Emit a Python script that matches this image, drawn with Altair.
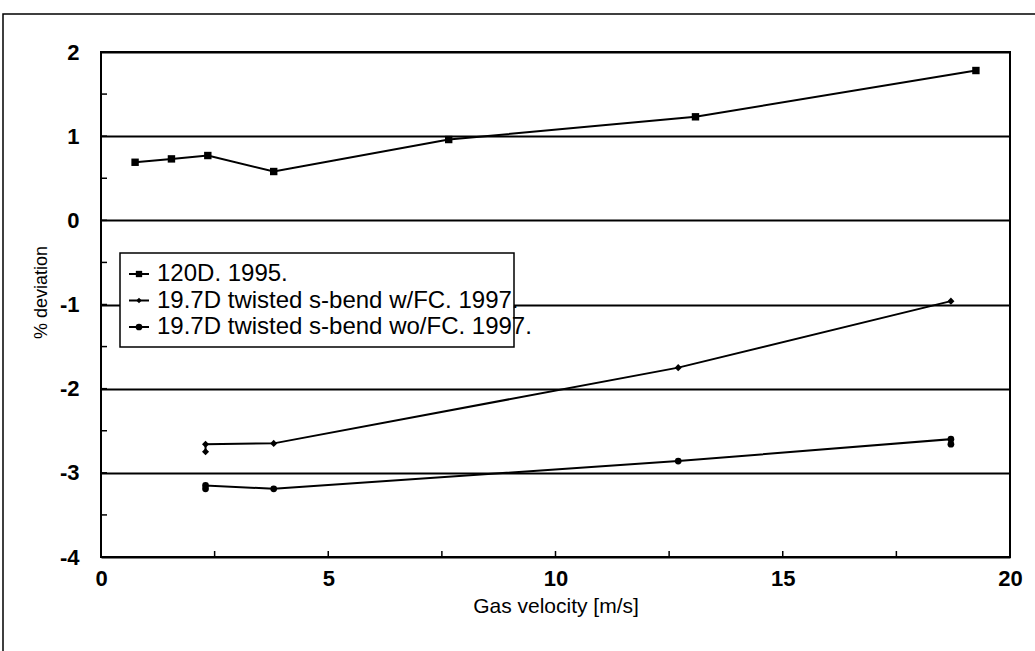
import altair as alt
import pandas as pd

# ---------------- data ----------------
series_names = [
    "120D. 1995.",
    "19.7D twisted s-bend w/FC. 1997.",
    "19.7D twisted s-bend wo/FC. 1997.",
]
s1_x = [0.75, 1.55, 2.35, 3.8, 7.65, 13.08, 19.25]
s1_y = [0.69, 0.73, 0.77, 0.58, 0.96, 1.23, 1.78]
s2_x = [2.3, 2.3, 3.8, 12.7, 18.7]
s2_y = [-2.75, -2.66, -2.65, -1.75, -0.96]
s3_x = [2.3, 2.3, 3.8, 12.7, 18.7, 18.7]
s3_y = [-3.19, -3.15, -3.19, -2.86, -2.6, -2.66]

x_tick_values = [0, 5, 10, 15, 20]
y_tick_values = [-4, -3, -2, -1, 0, 1, 2]
x_minor_ticks = [2.5, 5, 7.5, 10, 12.5, 15, 17.5]
y_minor_ticks = [-3.5, -3, -2.5, -2, -1.5, -1, -0.5, 0, 0.5, 1, 1.5]

x_title = "Gas velocity [m/s]"
y_title = "% deviation"

# ---------------- build table ----------------
rows = []
for name, xs, ys in zip(series_names, [s1_x, s2_x, s3_x], [s1_y, s2_y, s3_y]):
    for i, (xv, yv) in enumerate(zip(xs, ys)):
        rows.append({"series": name, "x": xv, "y": yv, "order": i})
df = pd.DataFrame(rows)

W, H = 909, 505
TICK_FONT = "Liberation Sans, Arial"
TEXT_FONT = "Liberation Sans, Arial"

x_scale = alt.Scale(domain=[0, 20], nice=False, zero=False)
y_scale = alt.Scale(domain=[-4, 2], nice=False, zero=False)

x_enc = alt.X(
    "x:Q",
    scale=x_scale,
    axis=alt.Axis(
        values=x_tick_values,
        grid=False,
        ticks=False,
        domain=False,
        labelFlush=False,
        labelFont=TICK_FONT,
        labelFontWeight="bold",
        labelFontSize=22,
        labelPadding=11,
        title=x_title,
        titleFont=TEXT_FONT,
        titleFontWeight="normal",
        titleFontSize=21,
        titlePadding=6,
    ),
)
y_enc = alt.Y(
    "y:Q",
    scale=y_scale,
    axis=alt.Axis(
        values=y_tick_values,
        grid=True,
        gridColor="black",
        gridWidth=2,
        gridOpacity=1,
        ticks=False,
        domain=False,
        labelFlush=False,
        labelFont=TICK_FONT,
        labelFontWeight="bold",
        labelFontSize=22,
        labelPadding=22,
        labelExpr="'' + datum.value",
        title=y_title,
        titleFont=TEXT_FONT,
        titleFontWeight="normal",
        titleFontSize=18,
        titlePadding=9,
        titleY=240,
    ),
)

base = alt.Chart(df)

lines = base.mark_line(color="black", strokeWidth=2).encode(
    x=x_enc, y=y_enc, detail="series:N", order="order:Q"
)

shape_scale = alt.Scale(domain=series_names, range=["square", "diamond", "circle"])
size_scale = alt.Scale(domain=series_names, range=[55, 45, 70])

points = base.mark_point(filled=True, color="black", opacity=1).encode(
    x=alt.X("x:Q", scale=x_scale),
    y=alt.Y("y:Q", scale=y_scale),
    shape=alt.Shape("series:N", scale=shape_scale, legend=None),
    size=alt.Size("series:N", scale=size_scale, legend=None),
)

# minor ticks pointing into the plot
xt = alt.Chart(pd.DataFrame({"v": x_minor_ticks})).mark_rule(
    color="black", strokeWidth=1.5
).encode(x=alt.X("v:Q", scale=x_scale), y=alt.value(H - 6), y2=alt.value(H))
yt = alt.Chart(pd.DataFrame({"v": y_minor_ticks})).mark_rule(
    color="black", strokeWidth=1.5
).encode(y=alt.Y("v:Q", scale=y_scale), x=alt.value(0), x2=alt.value(6))

# outer frame of the whole figure
frame = alt.Chart(pd.DataFrame({"a": [0]})).mark_rect(
    fill=None, stroke="black", strokeWidth=1.5, clip=False
).encode(x=alt.value(-98), x2=alt.value(945), y=alt.value(-38), y2=alt.value(640))

# manual legend
LX0, LX1, LY0, LY1 = 19, 413, 201, 295
legend_layers = [
    alt.Chart(pd.DataFrame({"a": [0]})).mark_rect(
        fill="white", stroke="black", strokeWidth=1.5
    ).encode(x=alt.value(LX0), x2=alt.value(LX1), y=alt.value(LY0), y2=alt.value(LY1))
]
shapes = ["square", "diamond", "circle"]
sizes = [40, 30, 45]
for i, name in enumerate(series_names):
    yy = 222 + i * 26.5
    d = pd.DataFrame({"label": [name]})
    legend_layers.append(
        alt.Chart(d).mark_rule(color="black", strokeWidth=2).encode(
            x=alt.value(28), x2=alt.value(48), y=alt.value(yy)
        )
    )
    legend_layers.append(
        alt.Chart(d).mark_point(
            filled=True, color="black", opacity=1, shape=shapes[i], size=sizes[i]
        ).encode(x=alt.value(38), y=alt.value(yy))
    )
    legend_layers.append(
        alt.Chart(d).mark_text(
            align="left", baseline="middle", font=TEXT_FONT, fontSize=24, color="black"
        ).encode(x=alt.value(56), y=alt.value(yy), text="label:N")
    )

chart = alt.layer(xt, yt, lines, points, *legend_layers, frame).properties(
    width=W,
    height=H,
    autosize=alt.AutoSizeParams(type="none"),
    padding={"left": 101, "top": 52, "right": 25, "bottom": 94},
    background="white",
).configure_view(stroke="black", strokeWidth=2).configure_axis(
    labelColor="black", titleColor="black"
)

chart.save("out.html", embed_options={"renderer": "svg", "actions": False})
